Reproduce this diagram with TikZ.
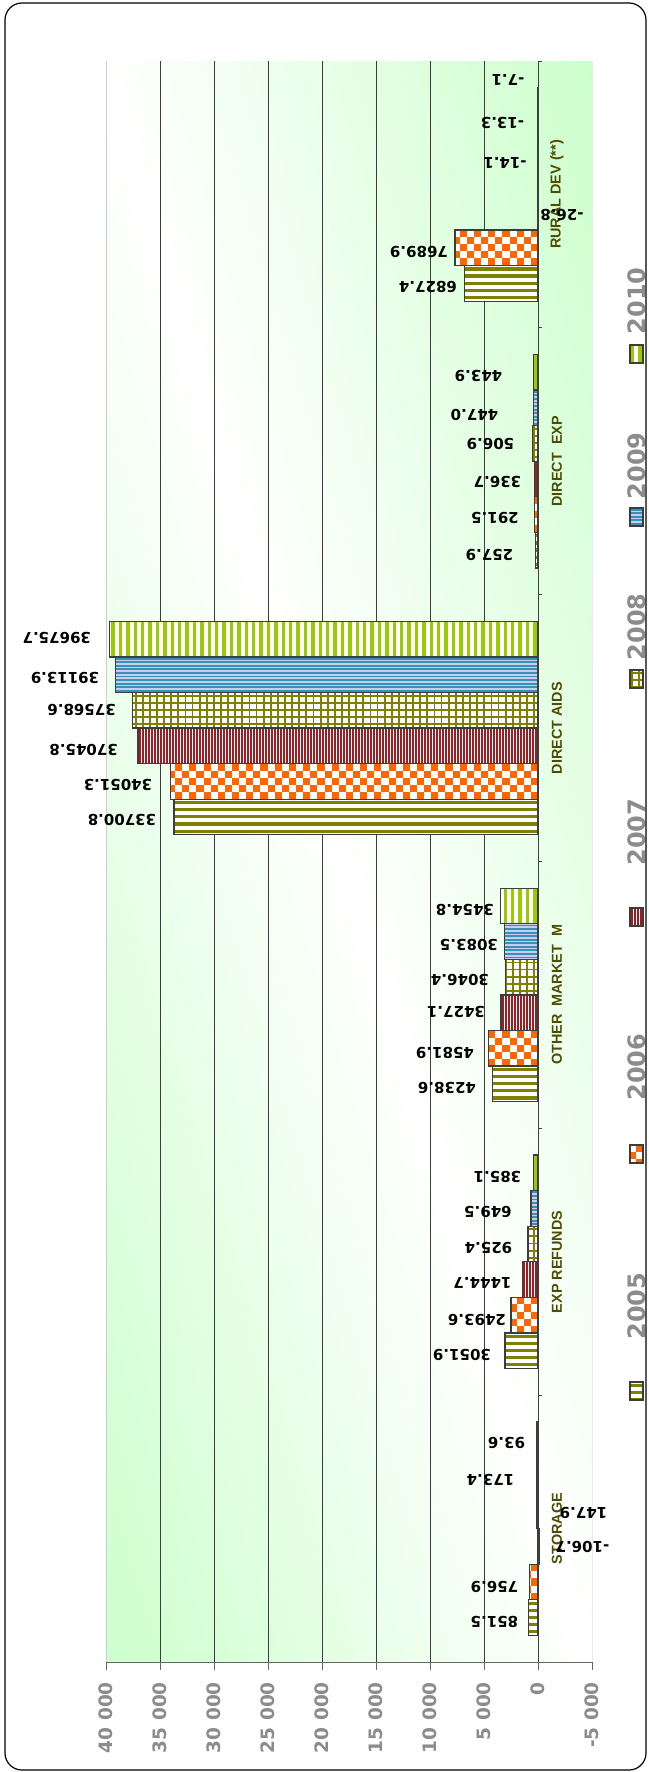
\documentclass[tikz,border=0pt]{standalone}
\usepackage{fontspec}
\newfontfamily\dvs{DejaVu Sans}
\newfontfamily\lbs{Liberation Sans}
\definecolor{olivep}{RGB}{128,128,0}
\definecolor{orangep}{RGB}{255,102,0}
\definecolor{redp}{RGB}{155,30,35}
\definecolor{bluep}{RGB}{55,145,185}
\definecolor{lavp}{RGB}{200,205,240}
\definecolor{greenp}{RGB}{153,204,0}
\definecolor{bggreen}{RGB}{204,255,204}
\definecolor{catcol}{RGB}{77,77,0}
\definecolor{tickgray}{RGB}{140,140,140}
\definecolor{barc}{RGB}{60,60,60}
\definecolor{gridc}{RGB}{60,60,60}
\tikzset{
 barline/.style={draw=barc, line width=1.2pt},
 dlbl/.style={font=\dvs\bfseries\fontsize{15}{18}\selectfont, rotate=180, inner sep=0pt},
 catlbl/.style={font=\lbs\bfseries\fontsize{14.4}{16}\selectfont, text=catcol, rotate=90, inner sep=0pt},
 ticklbl/.style={font=\dvs\bfseries\fontsize{18.5}{20}\selectfont, text=tickgray, rotate=90, anchor=east, inner sep=0pt},
 leglbl/.style={font=\dvs\bfseries\fontsize{24}{26}\selectfont, text=tickgray, rotate=90, inner sep=0pt},
 gridline/.style={draw=gridc, line width=0.9pt},
}
% pattern fill: #1 type 0..5, #2 xa, #3 ya, #4 xb, #5 yb
\newcommand\patfill[5]{%
 \begin{scope}
  \clip (#2,#3) rectangle (#4,#5);
  \fill[white] (#2,#3) rectangle (#4,#5);
  \pgfmathtruncatemacro\pnh{((#5)-(#3))/7.116+1}%
  \pgfmathtruncatemacro\pnw{((#4)-(#2))/7.116+1}%
  \ifcase#1
   \foreach \k in {0,...,\pnh}{\fill[olivep] (#2,#3+1.8+\k*7.116) rectangle (#4,#3+5.0+\k*7.116);}
  \or
   \foreach \r in {0,...,\pnh}{\foreach \c in {0,...,\pnw}{%
     \pgfmathtruncatemacro\pty{mod(\r+\c,2)}%
     \ifnum\pty=0 \fill[orangep] (#4-\c*7.116,#3+\r*7.116) rectangle (#4-\c*7.116-7.116,#3+\r*7.116+7.116);\fi}}
  \or
   \pgfmathtruncatemacro\pnr{((#4)-(#2))/3.0+1}%
   \foreach \k in {0,...,\pnr}{\fill[redp] (#4-0.6-\k*3.0,#3) rectangle (#4-2.7-\k*3.0,#5);}
  \or
   \foreach \k in {0,...,\pnh}{\fill[olivep] (#2,#3+2.2+\k*7.116) rectangle (#4,#3+4.0+\k*7.116);}
   \foreach \k in {0,...,\pnw}{\fill[olivep] (#4-3-\k*7.116,#3) rectangle (#4-4.8-\k*7.116,#5);}
  \or
   \fill[lavp] (#2,#3) rectangle (#4,#5);
   \pgfmathtruncatemacro\pnb{((#5)-(#3))/3.558+1}%
   \foreach \k in {0,...,\pnb}{\fill[bluep] (#2,#3+0.8+\k*3.558) rectangle (#4,#3+2.7+\k*3.558);}
  \or
   \pgfmathtruncatemacro\png{((#4)-(#2))/7.4+1}%
   \foreach \k in {0,...,\png}{\fill[greenp] (#4-1.5-\k*7.4,#3) rectangle (#4-4.9-\k*7.4,#5);}
  \fi
 \end{scope}}
% bar: #1 category (0 = bottom), #2 series 0..5, #3 value in thousands
\newcommand\barij[3]{%
 \pgfmathsetmacro\byt{1662-266.833*#1-26.69-35.578*(#2+1)}%
 \pgfmathsetmacro\byb{\byt+35.578}%
 \pgfmathsetmacro\bxl{538-(#3)*10.8}%
 \pgfmathsetmacro\bxa{min(\bxl,538)}%
 \pgfmathsetmacro\bxb{max(\bxl,538)}%
 \patfill{#2}{\bxa}{\byt}{\bxb}{\byb}%
 \draw[barline] (\bxa,\byt) rectangle (\bxb,\byb);}
\begin{document}
\begin{tikzpicture}[x=1pt,y=-1pt]
\useasboundingbox (0,0) rectangle (648,1772);
\fill[white] (0,0) rectangle (648,1772);
% plot area gradient
\begin{scope}[shift={(106,61)},x=486pt,y=-1601pt]
 \clip (0,0) rectangle (1,1);
 \foreach \i in {0,...,99}{%
  \pgfmathsetmacro\da{-1+\i*0.02}%
  \pgfmathsetmacro\db{\da+0.0215}%
  \pgfmathtruncatemacro\pc{abs(\da+0.01)*100}%
  \fill[bggreen!\pc!white] (\da-1,-1) -- (\da+2,2) -- (\db+2,2) -- (\db-1,-1) -- cycle;}
\end{scope}
% grid lines
\draw[draw=black!20, line width=0.8pt] (106,61) -- (106,1662);
\draw[draw=black!8, line width=0.8pt] (592,61) -- (592,1662);
\foreach \v in {5,10,...,35}{\draw[gridline] (538-\v*10.8,61) -- (538-\v*10.8,1662);}
% bars (values in thousands)
\foreach \i/\j/\v in {
 0/0/0.8515, 0/1/0.7569, 0/2/-0.1067, 0/3/0.1479, 0/4/0.1734, 0/5/0.0936,
 1/0/3.0519, 1/1/2.4936, 1/2/1.4447, 1/3/0.9254, 1/4/0.6495, 1/5/0.3851,
 2/0/4.2386, 2/1/4.5819, 2/2/3.4271, 2/3/3.0464, 2/4/3.0835, 2/5/3.4548,
 3/0/33.7008, 3/1/34.0513, 3/2/37.0458, 3/3/37.5686, 3/4/39.1139, 3/5/39.6757,
 4/0/0.2579, 4/1/0.2915, 4/2/0.3367, 4/3/0.5069, 4/4/0.4470, 4/5/0.4439,
 5/0/6.8274, 5/1/7.6899, 5/2/-0.0268, 5/3/-0.0141, 5/4/-0.0133, 5/5/-0.0071}{\barij{\i}{\j}{\v}}
% axes
\draw[draw=black!75, line width=0.9pt] (538,61) -- (538,1662);
\foreach \y in {61,327.83,594.67,861.5,1128.33,1395.17}{\draw[draw=black!75, line width=0.9pt] (538,\y) -- (542,\y);}
\draw[draw=black!60, line width=1pt] (106,1662) -- (592,1662);
\foreach \v in {-5,0,5,...,40}{\draw[draw=black!60, line width=1pt] (538-\v*10.8,1662) -- (538-\v*10.8,1670);}
% tick labels
\foreach \v/\t in {40/40 000,35/35 000,30/30 000,25/25 000,20/20 000,15/15 000,10/10 000,5/5 000,0/0,-5/-5 000}{
 \node[ticklbl] (t\v) at (538-\v*10.8,1682) {\t};}
% category labels
\foreach \n/\y/\t in {storage/1528.6/STORAGE, exprefunds/1261.8/EXP REFUNDS, othermarket/994.9/OTHER\ \ MARKET\ \ M, directaids/728.1/DIRECT AIDS, directexp/461.3/DIRECT\ \ EXP, ruraldev/194.4/RURAL DEV (**)}{
 \node[catlbl] (c-\n) at (557,\y) {\t};}
% data labels
\foreach \n/\x/\y/\t in {
 a0/494.5/1622/851.5, a1/494.5/1587/756.9, a2/582.5/1547/-106.7, a3/583.5/1513/147.9, a4/490.5/1480/173.4, a5/506.5/1443/93.6,
 b0/462/1355/3051.9, b1/477/1320/2493.6, b2/482.5/1283/1444.7, b3/488.5/1248/925.4, b4/488/1212/649.5, b5/497.5/1177/385.1,
 c0/447/1088/4238.6, c1/445/1053/4581.9, c2/456/1012/3427.1, c3/460/980/3046.4, c4/469/945/3083.5, c5/465/910/3454.8,
 d0/122/820/33700.8, d1/118/785/34051.3, d2/83.7/750/37045.8, d3/81.6/710/37568.6, d4/65/678/39113.9, d5/56.8/638/39675.7,
 e0/489.5/555/257.9, e1/495/518/291.5, e2/497.5/482/336.7, e3/490.5/444/506.9, e4/474.5/415/447.0, e5/478.5/376/443.9,
 f0/428/287/6827.4, f1/419/252/7689.9, f2/562/215/-26.8, f3/505/163/-14.1, f4/502.5/123/-13.3, f5/508/80/-7.1}{
 \node[dlbl] (v-\n) at (\x,\y) {\t};}
% legend
\foreach \j/\yt/\ys in {0/1306/1382, 1/1067/1145, 2/832/908, 3/627/670, 4/466/508, 5/301/345}{
 \pgfmathtruncatemacro\yr{2005+\j}
 \patfill{\j}{630}{\ys}{643}{\ys+18}
 \draw[barline] (630,\ys) rectangle (643,\ys+18);
 \node[leglbl] (leg\yr) at (637,\yt) {\yr};}
% frame
\draw[line width=1.2pt, rounded corners=17pt] (5,3) rectangle (646,1770);
\end{tikzpicture}
\end{document}
